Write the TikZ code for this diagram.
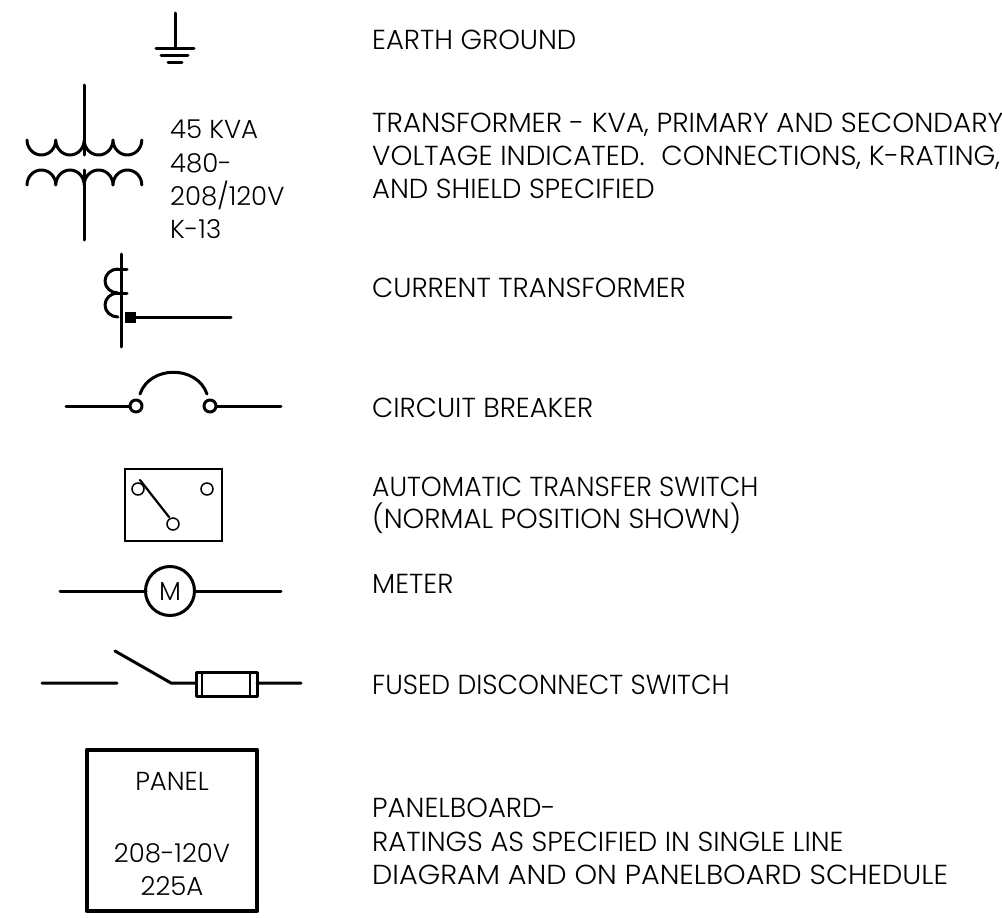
\documentclass[tikz,border=0pt]{standalone}
\usepackage{fontspec}
\usepackage{graphicx}
\setmainfont{Poppins}[UprightFont=* Light]
\newcommand{\sx}[2]{\scalebox{#1}[1]{#2}}
\tikzset{x=1pt,y=-1pt,
 sym/.style={line width=3pt,line cap=round,line join=round,black},
 thin sym/.style={line width=1.5pt,black},
 lab/.style={anchor=base west,inner sep=0pt,font=\fontsize{27.5}{30}\selectfont,text=black},
 side/.style={anchor=base west,inner sep=0pt,font=\fontsize{26}{30}\selectfont,text=black},
 ctr/.style={anchor=base,inner sep=0pt,font=\fontsize{26}{30}\selectfont,text=black}}
\begin{document}
\begin{tikzpicture}
\useasboundingbox (0,0) rectangle (1002,918);
% ground
\draw[sym] (175,13) -- (175,48) (156,48) -- (194,48) (161,55) -- (188,55) (168,62) -- (182,62);
% transformer
\draw[sym] (84,85) -- (84,155) (84,170) -- (84,240);
\draw[sym] (27,140) arc[start angle=180,end angle=0,x radius=14.4,y radius=15]
 arc[start angle=180,end angle=0,x radius=14.2,y radius=15]
 arc[start angle=180,end angle=0,x radius=14.4,y radius=15]
 arc[start angle=180,end angle=0,x radius=14.4,y radius=15];
\draw[sym] (27,185) arc[start angle=180,end angle=360,x radius=14.4,y radius=15]
 arc[start angle=180,end angle=360,x radius=14.2,y radius=15]
 arc[start angle=180,end angle=360,x radius=14.4,y radius=15]
 arc[start angle=180,end angle=360,x radius=14.4,y radius=15];
\node[side] (t1) at (170,138) {45 KVA};
\node[side] (t2) at (170,172) {480-};
\node[side] (t3) at (170,205) {208/120V};
\node[side] (t4) at (170,238) {K-13};
% current transformer
\draw[sym] (121,254) -- (121,347) (114,269) -- (127,269) (114,293) -- (127,293) (127,317) -- (231,317);
\draw[sym] (118,269) arc[start angle=270,end angle=90,x radius=13,y radius=12]
 arc[start angle=270,end angle=90,x radius=13,y radius=12];
\fill[black] (125,312) rectangle (136,323);
% breaker
\draw[sym] (66,406) -- (130,406) (217,406) -- (281,406);
\draw[sym] (136,406) circle[radius=6] (210,406) circle[radius=6];
\draw[sym] (140,394) .. controls (150,365) and (197,365) .. (207,394);
% ATS
\draw[thin sym] (125,469) rectangle (222,541);
\draw[line width=1.5pt] (138,489) circle[radius=6] (207,489) circle[radius=6] (173,524) circle[radius=6];
\draw[line width=2.2pt,line cap=round] (140,480) -- (169,517);
% meter
\draw[sym] (60,591) -- (146,591) (195,591) -- (281,591);
\draw[sym] (170,591) circle[radius=24.5];
\node[ctr] (m) at (170,600) {M};
% fused switch
\draw[sym] (42,683) -- (117,683) (115,651) -- (171,683) -- (196,683) (257,683) -- (301,683);
\draw[sym] (196,672) rectangle (257,696);
\draw[line width=1.3pt] (202,672) -- (202,696) (250,672) -- (250,696);
% panel
\draw[line width=4.5pt,line join=round] (87,750) rectangle (257,911);
\node[ctr] (p1) at (172,790) {PANEL};
\node[ctr] (p2) at (172,862) {208-120V};
\node[ctr] (p3) at (172,895) {225A};
% labels
\node[lab] (a) at (372,49) {EARTH GROUND};
\node[lab] (b1) at (372,132) {\sx{1.013}{TRANSFORMER - KVA, PRIMARY AND SECONDARY}};
\node[lab] (b2) at (372,165) {\sx{1.013}{VOLTAGE INDICATED.\hspace{.6em}CONNECTIONS, K-RATING,}};
\node[lab] (b3) at (372,198) {AND SHIELD SPECIFIED};
\node[lab] (c) at (372,297) {CURRENT TRANSFORMER};
\node[lab] (d) at (372,417) {CIRCUIT BREAKER};
\node[lab] (e1) at (372,496) {\sx{0.968}{AUTOMATIC TRANSFER SWITCH}};
\node[lab] (e2) at (372,528) {(NORMAL POSITION SHOWN)};
\node[lab] (f) at (372,593) {METER};
\node[lab] (g) at (372,694) {\sx{0.967}{FUSED DISCONNECT SWITCH}};
\node[lab] (h1) at (372,817) {PANELBOARD-};
\node[lab] (h2) at (372,851) {RATINGS AS SPECIFIED IN SINGLE LINE};
\node[lab] (h3) at (372,884) {\sx{1.045}{DIAGRAM AND ON PANELBOARD SCHEDULE}};
\end{tikzpicture}
\end{document}
